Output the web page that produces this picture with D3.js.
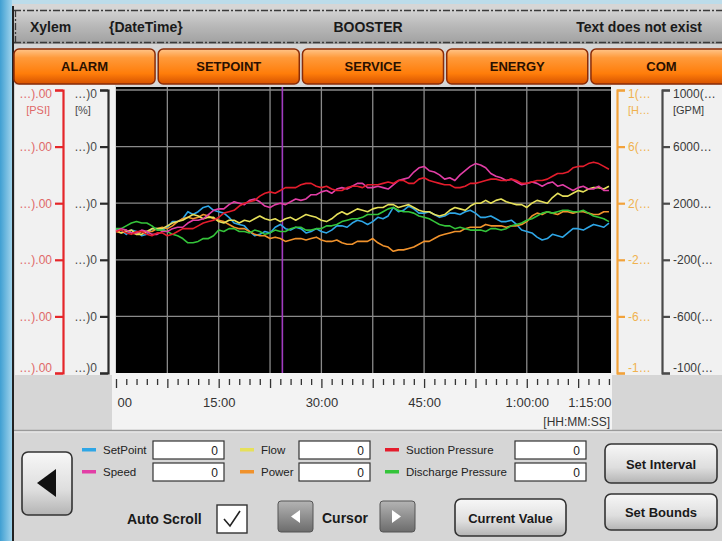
<!DOCTYPE html>
<html>
<head>
<meta charset="utf-8">
<script src="https://cdn.jsdelivr.net/npm/d3@7"></script>
<style>
  body { margin: 0; background: #ffffff; }
  svg text { font-family: "Liberation Sans Narrow", "Arial Narrow", "Liberation Sans", sans-serif; }
</style>
</head>
<body>
<div id="hmi"></div>
<script>
// ---- data read from the trend screen ----
// time in minutes, one sample every 0.75 min
var minutes = [0,0.75,1.5,2.25,3,3.75,4.5,5.25,6,6.75,7.5,8.25,9,9.75,10.5,11.25,12,12.75,13.5,14.25,
    15,15.75,16.5,17.25,18,18.75,19.5,20.25,21,21.75,22.5,23.25,24,24.75,25.5,26.25,27,27.75,28.5,29.25,
    30,30.75,31.5,32.25,33,33.75,34.5,35.25,36,36.75,37.5,38.25,39,39.75,40.5,41.25,42,42.75,43.5,44.25,
    45,45.75,46.5,47.25,48,48.75,49.5,50.25,51,51.75,52.5,53.25,54,54.75,55.5,56.25,57,57.75,58.5,59.25,
    60,60.75,61.5,62.25,63,63.75,64.5,65.25,66,66.75,67.5,68.25,69,69.75,70.5,71.25,72];

var setPoint = [1,1,-2,1,0,-3,-2,2,2,1,3,7,7,9,14,12,14,17,18,15,14,13,10,6,5,4,0,-3,-2,0,-1,3,5,2,1,3,2,-1,0,2,
    0,-1,1,4,4,3,6,8,7,5,7,10,9,11,17,14,15,18,16,13,13,14,12,10,11,13,13,12,14,15,13,10,10,11,9,7,7,8,5,1,
    0,-1,-4,-6,-5,-2,-3,-4,-1,2,2,1,3,5,4,3,6];
var speed = [0,2,1,-1,-1,1,0,-2,-2,0,0,2,3,3,6,8,8,9,12,15,16,16,19,21,20,19,22,23,21,18,17,19,20,19,21,23,22,23,26,26,
    28,29,27,30,31,30,32,34,34,31,31,32,31,30,33,36,37,38,42,45,46,43,42,40,37,38,36,40,43,46,48,47,45,41,39,38,36,37,35,33,
    34,35,34,32,34,35,32,33,31,29,31,32,30,30,32,29,29];
var flow = [1,-1,0,1,-2,-2,0,2,2,2,4,6,7,8,10,12,11,9,10,10,7,6,8,8,6,8,7,9,11,9,8,9,7,9,10,8,10,12,11,10,
    8,7,9,12,14,12,14,16,15,14,16,17,17,19,19,17,18,19,17,15,14,14,12,11,12,15,17,16,15,18,20,20,22,20,22,23,21,20,19,19,
    17,20,22,21,20,24,27,25,25,27,29,28,30,31,31,30,32];
var power = [0,-1,1,-1,-2,0,0,0,2,3,2,4,7,9,10,9,10,12,11,9,8,7,5,3,2,2,0,-2,-3,-3,-5,-4,-5,-7,-6,-5,-5,-6,-5,-4,
    -6,-7,-7,-6,-8,-9,-9,-7,-7,-7,-5,-8,-10,-11,-14,-13,-13,-12,-11,-9,-7,-7,-5,-3,-2,-1,0,0,2,3,3,3,5,4,4,4,3,4,4,5,
    7,11,13,12,14,13,12,14,14,13,14,14,13,12,12,14,14];
var suction = [0,1,-1,-2,0,0,-2,-3,-1,-1,-3,-2,0,2,2,2,4,6,7,8,10,13,14,15,18,20,21,22,25,27,28,27,29,31,31,31,33,34,34,32,
    31,32,30,29,29,31,32,32,31,33,33,33,34,35,34,36,36,34,34,37,38,36,35,34,33,33,31,31,32,34,34,35,36,37,37,36,36,37,36,34,
    34,35,36,36,37,39,41,41,42,45,46,46,48,49,48,46,44];
var discharge = [2,2,4,6,7,6,6,4,1,1,0,-2,-3,-5,-8,-8,-7,-5,-5,-3,1,0,2,2,0,0,-1,1,0,-2,-1,1,0,0,2,3,3,1,1,2,
    2,4,4,5,7,8,9,9,10,12,12,12,14,16,17,15,14,14,13,11,10,9,7,5,4,4,2,3,2,1,1,1,0,2,2,1,2,4,5,6,
    8,9,11,13,14,13,14,15,15,14,14,15,13,11,10,9,7];

var seriesNames = ["SetPoint", "Speed", "Flow", "Power", "Suction Pressure", "Discharge Pressure"];
var seriesColors = ["#2ea6e6", "#e23ea6", "#e6e05a", "#f0922c", "#e41c2c", "#34c43a"];
var seriesValues = [setPoint, speed, flow, power, suction, discharge];
var drawOrder = [0, 3, 2, 5, 1, 4];

var cursorMinute = 24.3;
var gridMinutes = [7.5,15,22.5,30,37.5,45,52.5,60,67.5];
var timeTicks = [0, 15, 30, 45, 60, 72.3];
var timeLabels = ["00", "15:00", "30:00", "45:00", "1:00:00", "1:15:00"];

var valueTicks = [100, 60, 20, -20, -60, -100];
var psiLabels = ["\u2026).00", "\u2026).00", "\u2026).00", "\u2026).00", "\u2026).00", "\u2026).00"];
var pctLabels = ["\u2026)0", "\u2026)0", "\u2026)0", "\u2026)0", "\u2026)0", "\u2026)0"];
var hpLabels = ["1(\u2026", "6(\u2026", "2(\u2026", "-2\u2026", "-6\u2026", "-1\u2026"];
var gpmLabels = ["1000(\u2026", "6000\u2026", "2000\u2026", "-200(\u2026", "-600(\u2026", "-100(\u2026"];

var menuButtons = ["ALARM", "SETPOINT", "SERVICE", "ENERGY", "COM"];

// ---- page ----
var W = 722, H = 541;
var svg = d3.select("#hmi").append("svg")
    .attr("width", W)
    .attr("height", H);

var defs = svg.append("defs");
function grad(id, stops) {
    var g = defs.append("linearGradient").attr("id", id)
        .attr("x1", 0).attr("y1", 0).attr("x2", 0).attr("y2", 1);
    stops.forEach(function(s) {
        g.append("stop").attr("offset", s[0]).attr("stop-color", s[1]);
    });
}
grad("gOrange", [[0, "#ffc58a"], [0.25, "#ff9a3a"], [0.7, "#ff7d0a"], [1, "#d65200"]]);
grad("gHeader", [[0, "#d6d6d6"], [0.5, "#b8b8b8"], [1, "#a0a0a0"]]);
grad("gButton", [[0, "#f7f7f7"], [0.6, "#dedede"], [1, "#b4b4b4"]]);
grad("gDark", [[0, "#b4b4b4"], [1, "#6c6c6c"]]);
var side = defs.append("linearGradient").attr("id", "gSide")
    .attr("x1", 0).attr("y1", 0).attr("x2", 1).attr("y2", 0);
side.append("stop").attr("offset", 0).attr("stop-color", "#3f9fd2");
side.append("stop").attr("offset", 1).attr("stop-color", "#9fd3ec");

// backdrop and frame
svg.append("rect").attr("width", W).attr("height", H).attr("fill", "#bcdcea");
svg.append("rect").attr("x", 0).attr("y", 0).attr("width", 12).attr("height", H).attr("fill", "url(#gSide)");
svg.append("rect").attr("x", 12).attr("y", 4).attr("width", W - 12).attr("height", H - 4)
    .attr("fill", "#d6d6d6");
svg.append("line").attr("x1", 13).attr("x2", 13).attr("y1", 6).attr("y2", H)
    .attr("stroke", "#222").attr("stroke-width", 2);

// header bar
svg.append("rect").attr("x", 14).attr("y", 8).attr("width", W - 14).attr("height", 36)
    .attr("fill", "url(#gHeader)");
[10.5, 42.5].forEach(function(yy) {
    svg.append("line").attr("x1", 14).attr("x2", W).attr("y1", yy).attr("y2", yy)
        .attr("stroke", "#3a3a3a").attr("stroke-width", 1.3).attr("stroke-dasharray", "7,2,2,2");
});
svg.append("line").attr("x1", 15.5).attr("x2", 15.5).attr("y1", 10).attr("y2", 43)
    .attr("stroke", "#3a3a3a").attr("stroke-width", 1.3).attr("stroke-dasharray", "7,2,2,2");
var headFont = function(t) {
    return t.attr("font-size", 14).attr("font-weight", "bold").attr("fill", "#1a1a1a").attr("y", 32);
};
headFont(svg.append("text").attr("x", 30).text("Xylem"));
headFont(svg.append("text").attr("x", 109).text("{DateTime}"));
headFont(svg.append("text").attr("x", 368).attr("text-anchor", "middle").text("BOOSTER"));
headFont(svg.append("text").attr("x", 702).attr("text-anchor", "end").text("Text does not exist"));

// orange menu buttons
var btnX = d3.scaleBand().domain(menuButtons).range([14, 732]).paddingInner(0.022);
var menu = svg.selectAll(".menu").data(menuButtons).enter().append("g").attr("class", "menu");
menu.append("rect")
    .attr("x", function(d) { return btnX(d); })
    .attr("y", 49).attr("width", btnX.bandwidth()).attr("height", 35).attr("rx", 5)
    .attr("fill", "url(#gOrange)").attr("stroke", "#8a2c08").attr("stroke-width", 1.5);
menu.append("text")
    .attr("x", function(d) { return btnX(d) + btnX.bandwidth() / 2; })
    .attr("y", 71).attr("text-anchor", "middle")
    .attr("font-size", 13).attr("font-weight", "bold").attr("fill", "#2a1000")
    .text(function(d) { return d; });

// axis panels
svg.append("rect").attr("x", 15).attr("y", 85).attr("width", 100).attr("height", 290).attr("fill", "#f1f1f1");
svg.append("rect").attr("x", 611).attr("y", 85).attr("width", 111).attr("height", 290).attr("fill", "#f1f1f1");
svg.append("rect").attr("x", 112).attr("y", 373).attr("width", 500).attr("height", 57).attr("fill", "#f3f3f3");

// ---- plot ----
var plot = { left: 116, right: 611, top: 87, bottom: 373 };
var x = d3.scaleLinear().domain([0, 72.3]).range([plot.left, plot.right]);
var y = d3.scaleLinear().domain([-100, 100]).range([373, 90]);

svg.append("rect").attr("x", plot.left).attr("y", plot.top)
    .attr("width", plot.right - plot.left).attr("height", plot.bottom - plot.top)
    .attr("fill", "#000");

var grid = svg.append("g");
grid.selectAll(".vg").data(gridMinutes).enter().append("line")
    .attr("x1", function(d) { return x(d); }).attr("x2", function(d) { return x(d); })
    .attr("y1", plot.top).attr("y2", plot.bottom)
    .attr("stroke", "#8a8a8a").attr("stroke-width", 1.3);
grid.selectAll(".hg").data(valueTicks.slice(0, 5)).enter().append("line")
    .attr("x1", plot.left).attr("x2", plot.right)
    .attr("y1", function(d) { return y(d); }).attr("y2", function(d) { return y(d); })
    .attr("stroke", "#8a8a8a").attr("stroke-width", 1.3);

// cursor
svg.append("line").attr("x1", x(cursorMinute)).attr("x2", x(cursorMinute))
    .attr("y1", plot.top).attr("y2", plot.bottom)
    .attr("stroke", "#a23cc0").attr("stroke-width", 1.6);

// trend lines
var line = d3.line()
    .x(function(d, i) { return x(minutes[i]); })
    .y(function(d) { return y(d); });
drawOrder.forEach(function(k) {
    svg.append("path").datum(seriesValues[k])
        .attr("d", line)
        .attr("fill", "none")
        .attr("stroke", seriesColors[k])
        .attr("stroke-width", 1.6)
        .attr("stroke-linejoin", "round");
});

// ---- value axes ----
function valueAxis(axisFn, xPos, labels, lineColor, textColor) {
    var g = svg.append("g").attr("transform", "translate(" + xPos + ",0)")
        .call(axisFn(y).tickValues(valueTicks)
            .tickSizeInner(8).tickSizeOuter(8).tickPadding(3)
            .tickFormat(function(d, i) { return labels[i]; }));
    g.select(".domain").attr("stroke", lineColor).attr("stroke-width", 2.2);
    g.selectAll(".tick line").attr("stroke", lineColor).attr("stroke-width", 2.2);
    g.selectAll(".tick text").attr("fill", textColor).attr("font-size", 12)
        .attr("font-family", "'Liberation Sans Narrow', 'Liberation Sans', sans-serif");
    g.selectAll(".tick").filter(function(d) { return d === 100; }).select("text").attr("dy", "0.6em");
    g.selectAll(".tick").filter(function(d) { return d === -100; }).select("text").attr("dy", "-0.1em");
    return g;
}
valueAxis(d3.axisLeft, 63, psiLabels, "#e5262a", "#e06868");
valueAxis(d3.axisLeft, 108, pctLabels, "#2b2b2b", "#4a4a4a");
valueAxis(d3.axisRight, 617, hpLabels, "#f2a23a", "#f0b24e");
valueAxis(d3.axisRight, 662, gpmLabels, "#4a4a4a", "#3a3a3a");

function unitLabel(xPos, anchor, txt, color) {
    svg.append("text").attr("x", xPos).attr("y", 114).attr("text-anchor", anchor)
        .attr("font-size", 11).attr("fill", color).text(txt);
}
unitLabel(50, "end", "[PSI]", "#e06868");
unitLabel(75, "start", "[%]", "#4a4a4a");
unitLabel(628, "start", "[H\u2026", "#f0b24e");
unitLabel(673, "start", "[GPM]", "#3a3a3a");

// ---- time axis ----
var minorTicks = d3.range(0, 72.4, 1.5);
var tAxis = svg.append("g").attr("transform", "translate(0,379)")
    .call(d3.axisBottom(x).tickValues(minorTicks).tickSize(6).tickFormat(""));
tAxis.select(".domain").remove();
tAxis.selectAll(".tick line").attr("stroke", "#333").attr("stroke-width", 1.3)
    .attr("y2", function(d, i) { return i % 5 === 0 ? 9 : 6; });

var tLabels = svg.append("g").attr("transform", "translate(0,378)")
    .call(d3.axisBottom(x).tickValues(timeTicks).tickSize(0).tickPadding(20)
        .tickFormat(function(d, i) { return timeLabels[i]; }));
tLabels.select(".domain").remove();
tLabels.selectAll(".tick text").attr("font-size", 13).attr("fill", "#333")
    .attr("font-family", "'Liberation Sans Narrow', 'Liberation Sans', sans-serif")
    .attr("text-anchor", function(d, i) {
        return i === 0 ? "start" : (i === timeTicks.length - 1 ? "end" : "middle");
    })
    .attr("dx", function(d, i) { return i === 0 ? 1 : 0; });
svg.append("text").attr("x", 610).attr("y", 426).attr("text-anchor", "end")
    .attr("font-size", 12).attr("fill", "#333").text("[HH:MM:SS]");

// ---- bottom control panel ----
svg.append("line").attr("x1", 14).attr("x2", W).attr("y1", 430.5).attr("y2", 430.5)
    .attr("stroke", "#9a9a9a").attr("stroke-width", 1.5);
svg.append("line").attr("x1", 14).attr("x2", W).attr("y1", 432).attr("y2", 432)
    .attr("stroke", "#eeeeee").attr("stroke-width", 1);

function button(xp, yp, w, h, label) {
    svg.append("rect").attr("x", xp).attr("y", yp).attr("width", w).attr("height", h).attr("rx", 6)
        .attr("fill", "url(#gButton)").attr("stroke", "#333").attr("stroke-width", 1.6);
    if (label) {
        svg.append("text").attr("x", xp + w / 2).attr("y", yp + h / 2 + 5)
            .attr("text-anchor", "middle").attr("font-size", 13).attr("font-weight", "bold")
            .attr("fill", "#1a1a1a").text(label);
    }
}
button(22, 452, 50, 63, null);
svg.append("path").attr("d", "M37,483L56,469L56,497Z").attr("fill", "#111");
button(605, 444, 112, 39, "Set Interval");
button(605, 494, 112, 36, "Set Bounds");
button(455, 499, 111, 37, "Current Value");

// legend with value boxes
var colX = [82, 240, 385];
var boxX = [153, 299, 515];
var legendIdx = d3.range(seriesNames.length);
var leg = svg.selectAll(".leg").data(legendIdx).enter().append("g");
function col(i) { return Math.floor(i / 2); }
function row(i) { return i % 2; }
leg.append("rect")
    .attr("x", function(i) { return colX[col(i)]; })
    .attr("y", function(i) { return 448 + row(i) * 22; })
    .attr("width", 14).attr("height", 3.5)
    .attr("fill", function(i) { return seriesColors[i]; });
leg.append("text")
    .attr("x", function(i) { return colX[col(i)] + 21; })
    .attr("y", function(i) { return 454 + row(i) * 22; })
    .attr("font-size", 11.5).attr("fill", "#222")
    .text(function(i) { return seriesNames[i]; });
leg.append("rect")
    .attr("x", function(i) { return boxX[col(i)]; })
    .attr("y", function(i) { return 441 + row(i) * 22; })
    .attr("width", 71).attr("height", 18)
    .attr("fill", "#fff").attr("stroke", "#333").attr("stroke-width", 1.2);
leg.append("text")
    .attr("x", function(i) { return boxX[col(i)] + 65; })
    .attr("y", function(i) { return 455 + row(i) * 22; })
    .attr("text-anchor", "end").attr("font-size", 12).attr("fill", "#222")
    .text("0");

// auto scroll
svg.append("text").attr("x", 127).attr("y", 524).attr("font-size", 14).attr("font-weight", "bold")
    .attr("fill", "#1a1a1a").text("Auto Scroll");
svg.append("rect").attr("x", 217).attr("y", 505).attr("width", 30).attr("height", 28)
    .attr("fill", "#fff").attr("stroke", "#333").attr("stroke-width", 1.4);
svg.append("path").attr("d", "M224,519L230,526L240,511").attr("fill", "none")
    .attr("stroke", "#222").attr("stroke-width", 1.6);

// cursor buttons
[[278, "M300,510L300,523L291,516.5Z"], [380, "M392,510L392,523L401,516.5Z"]].forEach(function(b) {
    svg.append("rect").attr("x", b[0]).attr("y", 501).attr("width", 35).attr("height", 31).attr("rx", 3)
        .attr("fill", "url(#gDark)").attr("stroke", "#555").attr("stroke-width", 1);
    svg.append("path").attr("d", b[1]).attr("fill", "#fff");
});
svg.append("text").attr("x", 322).attr("y", 523).attr("font-size", 14).attr("font-weight", "bold")
    .attr("fill", "#1a1a1a").text("Cursor");
</script>
</body>
</html>
